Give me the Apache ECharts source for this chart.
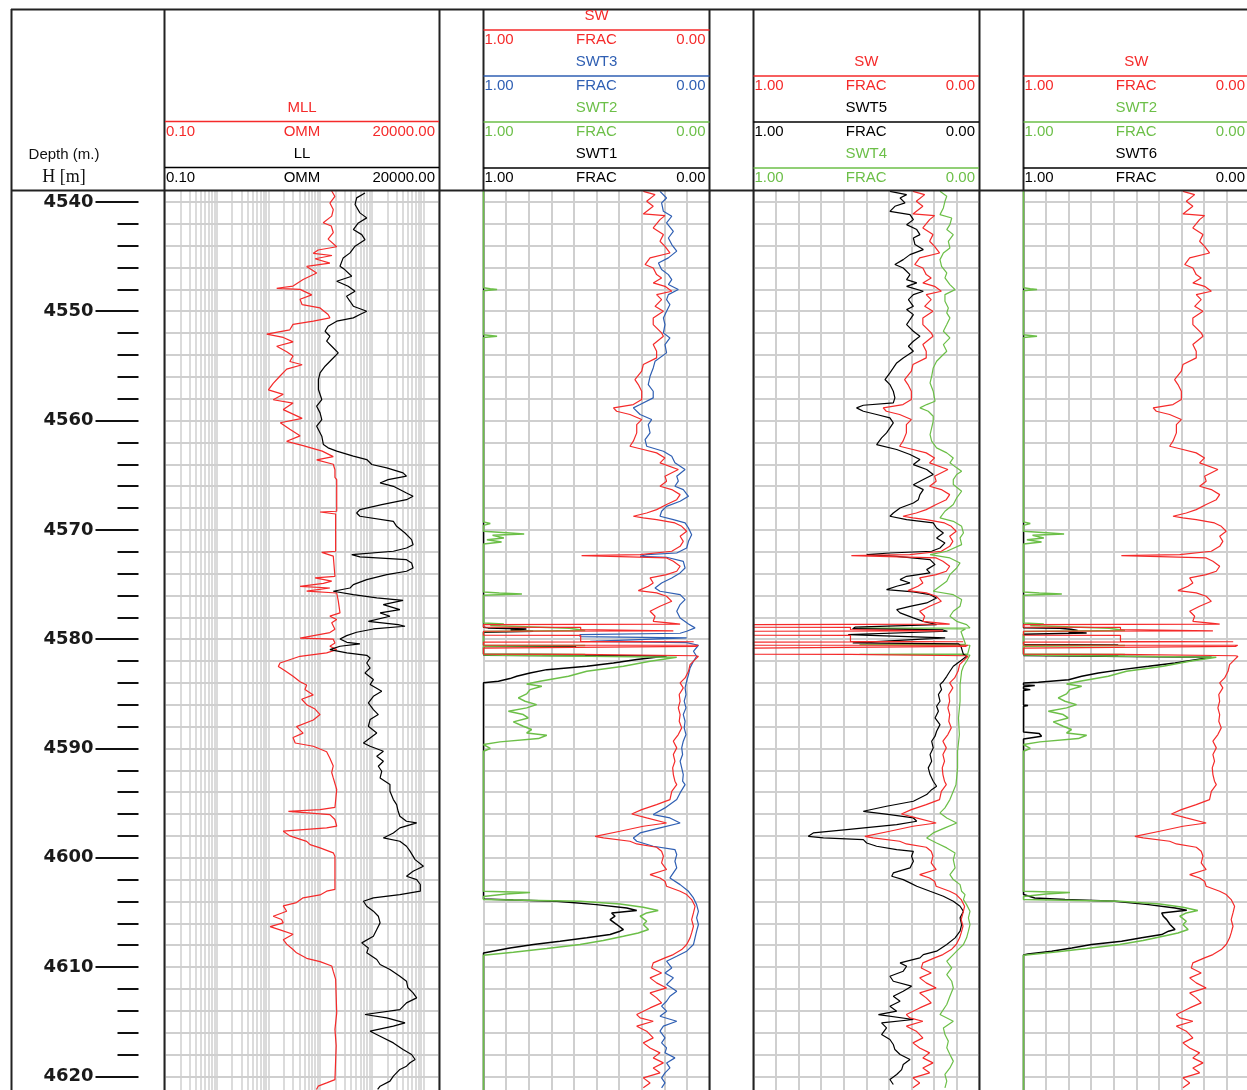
<!DOCTYPE html>
<html>
<head>
<meta charset="utf-8">
<title>Well log – resistivity and water saturation</title>
<script src="https://cdn.jsdelivr.net/npm/echarts@6/dist/echarts.min.js"></script>
<style>
  html, body { margin: 0; padding: 0; background: #ffffff; }
  #chart { width: 1247px; height: 1090px; }
</style>
</head>
<body>
<div id="chart"></div>
<script>
// ---- depth scale (m) ----
const depthRange = [4539, 4621.25];
const depthMajor = [4540, 4550, 4560, 4570, 4580, 4590, 4600, 4610, 4620];
const depthMinor = [4542, 4544, 4546, 4548, 4552, 4554, 4556, 4558, 4562, 4564, 4566, 4568,
  4572, 4574, 4576, 4578, 4582, 4584, 4586, 4588, 4592, 4594, 4596, 4598,
  4602, 4604, 4606, 4608, 4612, 4614, 4616, 4618];

// ---- resistivity scale (OMM) ----
const resRange = [0.1, 20000];
const resGrid = [0.1, 0.2, 0.3, 0.4, 0.5, 0.6, 0.7, 0.8, 0.9,
  1, 2, 3, 4, 5, 6, 7, 8, 9,
  10, 20, 30, 40, 50, 60, 70, 80, 90,
  100, 200, 300, 400, 500, 600, 700, 800, 900,
  1000, 2000, 3000, 4000, 5000, 6000, 7000, 8000, 9000,
  10000, 20000];

// ---- curves: [depth m, value] ----
const mll = [
  [4539.0,168],[4539.5,194],[4540.1,155],[4540.7,180],[4541.3,168],[4541.9,115],[4542.2,165],[4542.8,180],
  [4543.4,143],[4544.1,210],[4544.4,92],[4544.7,74],[4544.9,170],[4545.2,80],[4545.6,155],[4545.9,55],
  [4546.5,86],[4547.1,47],[4547.7,30],[4547.9,14.5],[4548.0,41],[4548.5,69],[4548.9,41],[4549.4,45],
  [4549.7,100],[4550.3,143],[4550.6,155],[4550.9,74],[4551.2,30],[4551.7,26],[4552.1,9.3],[4552.4,19.4],
  [4552.8,30],[4553.2,14.5],[4553.7,22.6],[4554.1,30],[4554.6,26],[4554.9,45],[4555.3,22.6],[4555.9,17],
  [4556.6,12.4],[4557.2,10],[4557.6,19.4],[4558.1,12.4],[4558.4,30],[4559.0,19.4],[4559.8,45],[4560.2,17],
  [4560.8,26],[4561.4,41],[4561.9,22.6],[4562.3,47],[4562.8,110],[4563.3,180],[4563.6,86],[4564.0,180],
  [4564.5,194],[4565.2,194],[4565.4,210],[4568.3,210],[4568.37,100],[4568.55,200],[4571.96,200],[4572.06,108],
  [4572.4,180],[4574.25,194],[4574.4,80],[4574.7,168],[4574.9,116],[4575.17,41],[4575.32,155],[4575.6,55],
  [4575.78,210],[4576.5,225],[4577.6,243],[4577.9,155],[4578.2,210],[4578.5,168],[4579.1,194],[4579.4,155],
  [4579.9,41],[4580.0,180],[4580.35,194],[4580.65,155],[4580.96,210],[4581.26,134],[4581.57,41],[4582.18,16.8],
  [4582.5,15.6],[4582.9,21],[4583.4,30],[4583.9,41],[4584.2,55],[4584.6,51],[4585.1,74],[4585.5,44],
  [4586.0,55],[4586.4,80],[4586.9,100],[4587.4,74],[4588.0,35],[4588.6,47],[4589.0,30],[4589.5,33],
  [4589.8,74],[4590.3,134],[4590.9,155],[4591.6,180],[4592.2,168],[4592.7,180],[4592.85,194],[4593.76,210],
  [4595.4,194],[4595.6,100],[4595.75,24.4],[4595.9,23],[4596.05,155],[4596.5,194],[4597.1,210],[4597.27,134],
  [4597.57,19.4],[4597.73,18],[4598.0,26],[4598.5,55],[4598.8,64],[4599.1,100],[4599.55,180],[4599.86,194],
  [4602.9,194],[4603.06,134],[4603.4,100],[4603.67,47],[4604.1,35],[4604.4,19.4],[4604.9,22.6],[4605.35,12.4],
  [4605.65,18],[4605.96,19.4],[4606.3,10.8],[4606.6,16.8],[4607.0,30],[4607.5,19.4],[4607.9,22.6],[4608.4,30],
  [4608.7,35],[4609.2,55],[4609.5,100],[4609.9,168],[4610.4,180],[4611.1,200],[4614.2,210],[4615.7,194],
  [4617.2,205],[4620.3,194],[4620.6,134],[4620.9,92],[4621.2,85]
];

const ll = [
  [4539.18,740],[4539.63,510],[4540.24,475],[4541.0,590],[4541.46,800],[4541.92,550],[4542.53,440],[4542.99,640],
  [4543.45,740],[4544.05,475],[4544.66,380],[4545.12,280],[4545.88,243],[4546.19,300],[4546.8,410],[4547.26,210],
  [4547.71,350],[4548.17,475],[4548.63,325],[4549.09,380],[4549.54,440],[4550.0,800],[4550.3,590],[4550.61,440],
  [4550.91,210],[4551.37,143],[4551.83,125],[4552.29,155],[4552.74,134],[4553.2,168],[4553.81,225],[4554.42,168],
  [4555.03,125],[4555.64,100],[4556.25,93],[4557.16,93],[4558.08,108],[4558.69,86],[4559.3,100],[4559.91,108],
  [4560.52,86],[4561.43,108],[4562.2,116],[4562.5,143],[4562.8,210],[4563.26,440],[4563.57,800],[4564.02,1000],
  [4564.33,1950],[4564.79,4030],[4565.09,4700],[4565.41,2070],[4565.71,1450],[4566.02,2620],[4566.63,4700],[4566.93,6300],
  [4567.24,4700],[4567.7,1560],[4568.15,590],[4568.46,510],[4568.76,590],[4569.22,2620],[4569.68,3030],[4570.29,4400],
  [4570.9,5900],[4571.36,6300],[4571.66,4700],[4571.96,2620],[4572.27,410],[4572.48,590],[4572.73,4700],[4573.03,5900],
  [4573.49,6300],[4573.79,4700],[4574.1,1950],[4574.56,800],[4575.01,440],[4575.32,380],[4575.62,180],[4575.93,440],
  [4576.23,1250],[4576.45,4030],[4576.84,1670],[4577.3,3500],[4577.6,1450],[4577.91,2250],[4578.37,860],[4578.67,3240],
  [4578.82,4400],[4579.07,1075],[4579.37,510],[4579.68,327],[4579.98,243],[4580.29,330],[4580.44,590],[4580.65,243],
  [4580.96,155],[4581.26,330],[4581.48,800],[4581.72,930],[4582.18,800],[4582.64,930],[4583.09,740],[4583.7,1075],
  [4584.16,930],[4584.77,1560],[4585.23,1075],[4585.84,860],[4586.45,1075],[4586.9,1340],[4587.36,930],[4587.97,860],
  [4588.58,1250],[4589.04,930],[4589.5,690],[4589.8,930],[4590.26,1680],[4590.72,1250],[4591.17,1680],[4591.63,1340],
  [4592.09,1560],[4592.7,1450],[4592.85,1340],[4593.31,2250],[4593.92,2250],[4594.68,2620],[4595.14,3030],[4595.75,3240],
  [4596.2,3500],[4596.66,4700],[4596.81,7400],[4597.27,3500],[4597.73,2620],[4598.19,1680],[4598.49,3500],[4598.95,4700],
  [4599.4,5500],[4600.17,6900],[4600.78,10000],[4601.23,6300],[4601.69,4700],[4602.0,7400],[4602.45,8700],[4603.06,8700],
  [4603.37,3500],[4603.67,1075],[4603.98,690],[4604.44,800],[4604.89,1075],[4605.35,1340],[4605.96,1450],[4606.57,1250],
  [4607.18,1075],[4607.79,640],[4608.25,860],[4608.7,800],[4609.31,1250],[4609.77,1450],[4610.23,2250],[4610.84,3500],
  [4611.3,4700],[4611.9,5000],[4612.36,6300],[4612.82,7400],[4613.28,4700],[4613.89,3500],[4614.34,740],[4614.65,1950],
  [4615.11,4400],[4615.41,2620],[4615.87,930],[4616.33,1450],[4616.94,2620],[4617.55,4030],[4618.0,5900],[4618.46,6900],
  [4618.76,5500],[4619.07,4700],[4619.37,3500],[4619.98,2620],[4620.44,2250],[4620.9,1450],[4621.2,1300]
];

const sw = [
  [4539.03,0.293],[4539.33,0.241],[4539.94,0.278],[4540.4,0.249],[4541.1,0.293],[4541.25,0.197],[4541.62,0.219],[4542.38,0.249],
  [4542.99,0.204],[4543.6,0.219],[4544.06,0.197],[4544.67,0.175],[4545.12,0.263],[4545.73,0.285],[4546.04,0.249],[4546.65,0.234],
  [4546.95,0.212],[4547.41,0.249],[4547.72,0.197],[4548.17,0.167],[4548.48,0.234],[4548.94,0.212],[4549.55,0.241],[4550.0,0.204],
  [4550.61,0.249],[4551.22,0.249],[4551.98,0.212],[4552.29,0.204],[4553.05,0.249],[4553.66,0.234],[4554.27,0.234],[4554.88,0.293],
  [4555.49,0.300],[4556.25,0.330],[4556.71,0.315],[4557.32,0.300],[4558.08,0.300],[4558.54,0.337],[4558.84,0.425],[4559.15,0.411],
  [4559.45,0.352],[4559.91,0.300],[4560.37,0.322],[4561.13,0.322],[4561.89,0.337],[4562.35,0.352],[4562.65,0.293],[4562.96,0.234],
  [4563.42,0.197],[4563.87,0.219],[4564.48,0.138],[4565.09,0.197],[4565.55,0.190],[4566.01,0.219],[4566.32,0.167],[4566.78,0.130],
  [4567.24,0.145],[4567.69,0.190],[4568.15,0.234],[4568.46,0.278],[4568.76,0.337],[4568.91,0.293],[4569.07,0.234],[4569.37,0.153],
  [4569.68,0.123],[4570.13,0.101],[4570.59,0.130],[4571.05,0.116],[4571.51,0.130],[4571.96,0.167],[4572.27,0.307],[4572.36,0.566],
  [4572.45,0.396],[4572.57,0.190],[4572.88,0.160],[4573.33,0.130],[4573.79,0.145],[4574.1,0.190],[4574.4,0.263],[4574.86,0.249],
  [4575.16,0.271],[4575.56,0.315],[4575.77,0.234],[4576.08,0.190],[4576.54,0.167],[4576.99,0.219],[4577.45,0.263],[4577.91,0.241],
  [4578.37,0.249],[4578.55,0.16],[4578.62,0.13],[4578.67,1.0],[4578.9,1.0],[4578.92,0.57],[4579.12,0.57],[4579.25,0.16],
  [4579.28,1.0],[4579.63,1.0],[4579.65,0.57],[4580.2,0.57],[4580.24,0.07],[4580.27,1.0],[4580.54,1.0],[4580.56,0.05],
  [4580.66,0.06],[4580.8,0.06],[4580.82,1.0],[4581.38,1.0],[4581.4,0.57],[4581.46,0.57],[4581.52,0.06],[4581.57,0.049],
  [4581.87,0.064],[4582.33,0.086],[4582.94,0.093],[4583.55,0.108],[4584.0,0.130],[4584.46,0.116],[4585.07,0.134],[4585.68,0.130],
  [4586.29,0.138],[4586.9,0.130],[4587.51,0.134],[4588.12,0.123],[4588.73,0.138],[4589.34,0.160],[4589.95,0.145],[4590.56,0.160],
  [4591.17,0.153],[4591.78,0.163],[4592.39,0.160],[4593.0,0.153],[4593.31,0.145],[4593.92,0.167],[4594.68,0.175],[4595.14,0.234],
  [4595.6,0.300],[4596.0,0.344],[4596.36,0.278],[4596.82,0.190],[4597.12,0.293],[4597.58,0.396],[4598.04,0.506],[4598.19,0.469],
  [4598.49,0.352],[4598.74,0.322],[4599.04,0.234],[4599.41,0.212],[4599.86,0.204],[4600.47,0.212],[4601.08,0.190],[4601.54,0.263],
  [4601.85,0.219],[4602.15,0.197],[4602.61,0.190],[4603.07,0.130],[4603.37,0.101],[4603.83,0.079],[4604.44,0.064],[4605.05,0.071],
  [4605.66,0.079],[4606.27,0.071],[4606.88,0.079],[4607.33,0.086],[4607.94,0.101],[4608.4,0.123],[4608.86,0.160],[4609.16,0.197],
  [4609.62,0.249],[4610.08,0.256],[4610.54,0.212],[4610.99,0.263],[4611.45,0.234],[4611.91,0.190],[4612.37,0.263],[4612.82,0.234],
  [4613.28,0.212],[4613.74,0.263],[4614.35,0.322],[4614.65,0.307],[4614.96,0.249],[4615.41,0.322],[4615.87,0.278],[4616.48,0.249],
  [4616.94,0.293],[4617.4,0.263],[4617.85,0.219],[4618.31,0.249],[4618.77,0.204],[4619.23,0.249],[4619.68,0.219],[4620.14,0.293],
  [4620.6,0.263],[4621.05,0.293]
];

const swt3 = [
  [4539.03,0.219],[4539.64,0.190],[4540.09,0.212],[4540.86,0.204],[4541.31,0.167],[4541.92,0.190],[4542.69,0.160],[4543.3,0.182],
  [4543.9,0.167],[4544.5,0.145],[4545.12,0.182],[4545.58,0.226],[4546.19,0.212],[4546.65,0.182],[4547.11,0.167],[4547.56,0.182],
  [4548.02,0.138],[4548.48,0.182],[4548.94,0.190],[4549.39,0.175],[4550.0,0.190],[4550.61,0.204],[4551.22,0.197],[4551.98,0.204],
  [4552.44,0.175],[4553.05,0.197],[4553.81,0.190],[4554.58,0.241],[4555.19,0.249],[4555.95,0.263],[4556.71,0.271],[4557.32,0.249],
  [4557.93,0.249],[4558.54,0.307],[4558.84,0.337],[4559.45,0.307],[4559.91,0.256],[4560.37,0.271],[4561.13,0.263],[4561.74,0.285],
  [4562.35,0.278],[4562.81,0.204],[4563.26,0.167],[4563.87,0.153],[4564.48,0.108],[4565.09,0.145],[4565.55,0.138],[4566.01,0.153],
  [4566.32,0.116],[4566.93,0.093],[4567.39,0.130],[4567.85,0.190],[4568.3,0.212],[4568.76,0.219],[4569.07,0.160],[4569.37,0.108],
  [4569.83,0.093],[4570.44,0.079],[4571.05,0.093],[4571.66,0.101],[4572.12,0.145],[4572.27,0.278],[4572.42,0.307],[4572.51,0.190],
  [4572.88,0.116],[4573.49,0.108],[4573.94,0.130],[4574.4,0.167],[4574.86,0.212],[4575.32,0.241],[4575.62,0.219],[4575.93,0.130],
  [4576.38,0.108],[4576.84,0.130],[4577.45,0.145],[4578.06,0.130],[4578.61,0.093],[4578.97,0.064],[4579.28,0.101],[4579.46,0.130],
  [4579.58,0.573],[4579.77,0.573],[4579.89,0.101],[4580.2,0.528],[4580.32,0.101],[4580.56,0.049],[4581.11,0.071],[4581.57,0.057],
  [4582.02,0.071],[4582.63,0.086],[4583.24,0.093],[4583.85,0.101],[4584.46,0.108],[4585.07,0.104],[4585.68,0.112],[4586.29,0.104],
  [4586.9,0.116],[4587.51,0.108],[4588.12,0.112],[4588.73,0.104],[4589.34,0.116],[4589.95,0.123],[4590.56,0.119],[4591.17,0.130],
  [4591.78,0.123],[4592.39,0.116],[4593.0,0.119],[4593.31,0.108],[4594.07,0.130],[4594.68,0.145],[4595.44,0.197],[4596.05,0.249],
  [4596.36,0.175],[4596.82,0.130],[4597.27,0.219],[4597.73,0.307],[4598.19,0.337],[4598.49,0.322],[4598.95,0.249],[4599.25,0.153],
  [4599.71,0.145],[4600.32,0.153],[4600.93,0.145],[4601.39,0.160],[4601.85,0.175],[4602.46,0.130],[4603.07,0.093],[4603.68,0.071],
  [4604.29,0.057],[4604.9,0.049],[4605.5,0.057],[4606.11,0.049],[4606.72,0.057],[4607.33,0.064],[4607.94,0.071],[4608.55,0.101],
  [4609.01,0.145],[4609.47,0.190],[4610.08,0.167],[4610.54,0.197],[4610.99,0.160],[4611.6,0.190],[4612.21,0.145],[4612.67,0.175],
  [4613.13,0.190],[4613.58,0.212],[4614.04,0.190],[4614.5,0.219],[4614.96,0.145],[4615.41,0.204],[4615.87,0.219],[4616.48,0.197],
  [4616.94,0.212],[4617.4,0.190],[4617.85,0.197],[4618.31,0.153],[4618.77,0.190],[4619.23,0.175],[4619.68,0.197],[4620.14,0.212],
  [4620.6,0.197],[4621.05,0.212]
];

const swt2 = [
  [4539.0,1],[4547.85,1],[4547.95,0.97],[4548.02,0.94],[4548.12,1],[4552.15,1],[4552.28,0.94],[4552.4,1],
  [4569.28,1],[4569.43,0.97],[4569.59,1],[4570.13,1],[4570.29,0.883],[4570.38,0.82],[4570.5,0.96],[4570.74,0.91],
  [4570.9,0.985],[4571.11,0.92],[4571.29,1],[4575.68,1],[4575.77,0.93],[4575.86,0.83],[4575.99,1],[4578.52,1],
  [4578.61,0.91],[4578.75,0.97],[4579.0,0.62],[4579.2,0.55],[4579.3,1],[4580.55,1],[4580.58,0.55],[4580.64,1],
  [4581.35,1],[4581.4,0.55],[4581.45,1],[4581.55,1],[4581.66,0.145],[4582.02,0.263],[4582.48,0.381],[4582.94,0.543],
  [4583.4,0.624],[4583.85,0.75],[4584.1,0.809],[4584.31,0.742],[4584.62,0.794],[4585.01,0.809],[4585.38,0.846],[4585.68,0.816],
  [4585.99,0.765],[4586.29,0.809],[4586.6,0.89],[4586.9,0.824],[4587.21,0.802],[4587.57,0.868],[4587.97,0.824],[4588.27,0.787],
  [4588.58,0.809],[4588.79,0.72],[4589.1,0.757],[4589.4,0.927],[4589.65,1],[4590.0,0.97],[4590.26,1],[4603.07,1],
  [4603.19,0.794],[4603.31,0.9],[4603.55,1],[4603.83,1],[4603.98,0.573],[4604.23,0.396],[4604.53,0.293],[4604.83,0.227],
  [4605.05,0.278],[4605.35,0.307],[4605.81,0.278],[4606.11,0.293],[4606.57,0.27],[4606.88,0.315],[4607.18,0.381],[4607.58,0.47],
  [4607.94,0.573],[4608.31,0.72],[4608.64,0.868],[4608.92,1],[4621.25,1]
];

const swt1 = [
  [4539.0,1],[4578.91,1],[4578.97,0.98],[4579.07,0.81],[4579.19,0.88],[4579.28,0.78],[4579.37,1],[4580.6,1],
  [4580.64,0.59],[4580.68,1],[4581.38,1],[4581.42,0.59],[4581.47,1],[4581.5,1],[4581.54,0.19],[4581.87,0.322],
  [4582.18,0.425],[4582.48,0.543],[4582.79,0.72],[4583.09,0.794],[4583.4,0.853],[4583.61,0.883],[4583.85,0.934],[4584.0,1],
  [4603.77,1],[4603.86,0.868],[4603.98,0.676],[4604.29,0.5],[4604.59,0.366],[4604.83,0.322],[4605.05,0.433],[4605.35,0.418],
  [4605.66,0.44],[4606.11,0.41],[4606.57,0.381],[4606.72,0.396],[4607.03,0.44],[4607.33,0.543],[4607.64,0.661],[4607.94,0.779],
  [4608.25,0.883],[4608.71,1],[4621.25,1]
];

const swt5 = [
  [4539.03,0.395],[4539.33,0.321],[4539.64,0.350],[4540.09,0.328],[4540.4,0.373],[4540.86,0.395],[4541.16,0.306],[4541.62,0.291],
  [4542.08,0.321],[4542.53,0.276],[4542.99,0.262],[4543.3,0.291],[4543.9,0.284],[4544.36,0.247],[4544.82,0.306],[4545.28,0.336],
  [4545.73,0.373],[4546.04,0.336],[4546.65,0.306],[4547.11,0.321],[4547.41,0.276],[4547.72,0.321],[4548.17,0.247],[4548.48,0.291],
  [4548.94,0.313],[4549.55,0.291],[4549.85,0.321],[4550.31,0.291],[4550.76,0.306],[4551.22,0.321],[4551.83,0.291],[4552.29,0.262],
  [4552.75,0.291],[4553.2,0.313],[4553.66,0.291],[4554.27,0.336],[4554.73,0.365],[4555.19,0.380],[4555.64,0.395],[4556.25,0.417],
  [4556.71,0.395],[4557.32,0.380],[4557.93,0.373],[4558.39,0.380],[4558.6,0.513],[4558.84,0.543],[4559.15,0.513],[4559.45,0.454],
  [4559.76,0.395],[4560.22,0.380],[4560.67,0.395],[4561.13,0.410],[4561.59,0.432],[4562.2,0.454],[4562.65,0.365],[4563.11,0.306],
  [4563.57,0.262],[4564.03,0.291],[4564.48,0.232],[4564.94,0.203],[4565.4,0.247],[4565.87,0.291],[4566.32,0.247],[4566.78,0.262],
  [4567.24,0.269],[4567.54,0.291],[4568.0,0.350],[4568.46,0.380],[4568.76,0.395],[4569.07,0.321],[4569.37,0.203],[4569.83,0.188],
  [4570.29,0.158],[4570.74,0.188],[4571.2,0.151],[4571.66,0.173],[4571.96,0.210],[4572.12,0.395],[4572.27,0.498],[4572.42,0.365],
  [4572.72,0.217],[4573.18,0.195],[4573.64,0.232],[4573.94,0.217],[4574.25,0.321],[4574.55,0.350],[4574.86,0.306],[4575.16,0.365],
  [4575.47,0.410],[4575.68,0.291],[4575.93,0.217],[4576.23,0.188],[4576.69,0.232],[4577.0,0.306],[4577.3,0.365],[4577.6,0.350],
  [4578.06,0.291],[4578.37,0.247],[4578.67,0.188],[4578.91,0.55],[4579.04,0.56],[4579.16,0.16],[4579.28,0.14],[4579.58,0.58],
  [4579.74,0.58],[4579.89,0.15],[4580.35,0.56],[4580.44,0.09],[4580.65,0.08],[4581.35,0.07],[4581.57,0.055],[4581.66,0.062],
  [4582.02,0.084],[4582.48,0.114],[4582.94,0.129],[4583.4,0.143],[4583.85,0.158],[4584.16,0.173],[4584.62,0.166],[4585.07,0.180],
  [4585.68,0.173],[4586.14,0.188],[4586.6,0.180],[4587.21,0.195],[4587.82,0.173],[4588.43,0.188],[4588.88,0.195],[4589.34,0.210],
  [4589.95,0.203],[4590.56,0.217],[4591.17,0.210],[4591.78,0.225],[4592.39,0.217],[4593.0,0.203],[4593.46,0.188],[4593.77,0.210],
  [4594.22,0.232],[4594.83,0.291],[4595.29,0.410],[4595.75,0.513],[4596.05,0.395],[4596.36,0.291],[4596.66,0.276],[4596.97,0.365],
  [4597.43,0.587],[4597.73,0.735],[4598.04,0.757],[4598.19,0.690],[4598.34,0.513],[4598.65,0.498],[4598.95,0.454],[4599.25,0.365],
  [4599.41,0.291],[4599.86,0.299],[4600.32,0.291],[4600.93,0.306],[4601.39,0.380],[4601.69,0.387],[4602.0,0.336],[4602.3,0.306],
  [4602.61,0.276],[4603.07,0.217],[4603.52,0.158],[4603.98,0.114],[4604.44,0.084],[4604.9,0.069],[4605.5,0.084],[4606.11,0.077],
  [4606.72,0.084],[4607.33,0.106],[4607.94,0.143],[4608.55,0.188],[4608.86,0.247],[4609.16,0.262],[4609.62,0.350],[4609.93,0.321],
  [4610.38,0.336],[4610.84,0.395],[4611.3,0.380],[4611.75,0.299],[4612.21,0.336],[4612.67,0.380],[4613.13,0.350],[4613.58,0.395],
  [4614.04,0.365],[4614.35,0.446],[4614.8,0.291],[4615.11,0.432],[4615.57,0.410],[4616.18,0.432],[4616.63,0.395],[4617.09,0.380],
  [4617.55,0.373],[4618.0,0.350],[4618.46,0.306],[4618.92,0.336],[4619.38,0.343],[4619.83,0.365],[4620.29,0.395],[4620.75,0.380]
];

const swt4 = [
  [4539.03,0.173],[4539.48,0.143],[4539.94,0.151],[4540.55,0.158],[4541.16,0.173],[4541.47,0.121],[4542.08,0.129],[4542.53,0.143],
  [4542.99,0.114],[4543.6,0.136],[4544.21,0.129],[4544.67,0.158],[4545.28,0.173],[4545.89,0.166],[4546.5,0.143],[4546.95,0.151],
  [4547.56,0.129],[4548.02,0.106],[4548.48,0.151],[4549.09,0.151],[4549.7,0.136],[4550.15,0.143],[4550.61,0.129],[4551.22,0.143],
  [4551.83,0.158],[4552.44,0.129],[4553.05,0.158],[4553.66,0.143],[4554.12,0.166],[4554.58,0.188],[4555.19,0.203],[4555.95,0.210],
  [4556.56,0.217],[4557.32,0.203],[4558.23,0.195],[4558.54,0.232],[4558.84,0.262],[4559.15,0.225],[4559.61,0.203],[4560.06,0.203],
  [4560.67,0.210],[4561.28,0.217],[4561.89,0.210],[4562.5,0.188],[4562.96,0.143],[4563.42,0.114],[4563.87,0.129],[4564.33,0.099],
  [4564.64,0.077],[4564.94,0.099],[4565.4,0.114],[4565.86,0.114],[4566.47,0.077],[4567.08,0.099],[4567.69,0.114],[4568.3,0.151],
  [4568.91,0.173],[4569.22,0.114],[4569.68,0.077],[4570.29,0.069],[4570.74,0.084],[4571.35,0.077],[4571.96,0.143],[4572.27,0.217],
  [4572.57,0.129],[4573.03,0.084],[4573.49,0.099],[4574.1,0.129],[4574.71,0.143],[4575.16,0.173],[4575.62,0.203],[4575.93,0.114],
  [4576.38,0.077],[4576.99,0.084],[4577.45,0.114],[4577.91,0.129],[4578.37,0.099],[4578.67,0.055],[4578.97,0.040],[4579.0,0.53],
  [4579.06,0.06],[4579.3,0.08],[4580.45,0.06],[4580.5,0.53],[4580.56,0.04],[4581.35,0.05],[4581.4,0.53],[4581.45,0.04],
  [4581.57,0.040],[4582.02,0.055],[4582.48,0.069],[4582.94,0.077],[4584.16,0.084],[4585.68,0.084],[4587.21,0.091],[4588.73,0.087],
  [4590.26,0.095],[4591.78,0.095],[4593.31,0.102],[4593.92,0.114],[4594.68,0.129],[4595.44,0.151],[4595.9,0.173],[4596.36,0.143],
  [4596.82,0.099],[4597.27,0.151],[4597.73,0.203],[4598.19,0.232],[4598.65,0.188],[4599.1,0.143],[4599.56,0.106],[4600.17,0.114],
  [4600.93,0.106],[4601.54,0.129],[4602.0,0.114],[4602.46,0.084],[4603.07,0.077],[4603.37,0.062],[4603.83,0.069],[4604.29,0.055],
  [4604.9,0.040],[4605.5,0.047],[4606.11,0.040],[4606.72,0.047],[4607.33,0.055],[4607.94,0.069],[4608.55,0.099],[4608.86,0.114],
  [4609.47,0.143],[4610.08,0.121],[4610.69,0.143],[4611.3,0.121],[4611.91,0.114],[4612.67,0.129],[4613.43,0.143],[4614.35,0.173],
  [4614.96,0.114],[4615.57,0.158],[4616.18,0.151],[4616.78,0.136],[4617.39,0.143],[4618.0,0.129],[4618.61,0.114],[4619.23,0.129],
  [4619.83,0.151],[4620.44,0.143],[4621.05,0.151]
];

const swt6 = [
  [4539.0,1],[4578.95,1],[4579.0,0.84],[4579.1,0.79],[4579.2,0.76],[4579.35,0.8],[4579.45,0.72],[4579.55,1],
  [4580.5,1],[4580.53,0.58],[4580.57,1],[4581.4,1],[4581.45,0.58],[4581.5,1],[4581.6,1],[4581.66,0.166],
  [4582.18,0.328],[4582.49,0.446],[4582.79,0.565],[4583.1,0.668],[4583.4,0.742],[4583.71,0.8],[4583.95,0.934],[4584.01,1],
  [4584.2,1],[4584.25,0.95],[4584.35,1],[4584.55,1],[4584.62,0.97],[4584.7,1],[4586.02,1],[4586.08,0.98],
  [4586.14,1],[4588.5,1],[4588.64,0.93],[4588.89,0.92],[4589.13,1],[4603.37,1],[4603.68,0.95],[4603.83,0.816],
  [4603.98,0.594],[4604.29,0.446],[4604.59,0.328],[4604.8,0.276],[4605.05,0.387],[4605.35,0.38],[4605.66,0.365],[4606.11,0.35],
  [4606.57,0.328],[4606.72,0.357],[4607.03,0.387],[4607.33,0.476],[4607.64,0.565],[4607.94,0.698],[4608.25,0.786],[4608.55,0.875],
  [4608.8,0.98],[4608.9,1],[4621.25,1]
];

// ---- layout ----
const TOP = 191, PLOT_H = 899;
// the depth scale hangs off the left edge of a thin box, ticks and labels pointing left
const depthBox = { left: 138.5, width: 10 };
const tracks = [
  null,
  { left: 165, width: 274 },      // resistivity
  { left: 483.5, width: 226 },    // SW / SWT3 / SWT2 / SWT1
  { left: 753.5, width: 225.5 },  // SW / SWT5 / SWT4
  { left: 1023.5, width: 225.5 }  // SW / SWT2 / SWT6
];

const RED = '#f52a2a', BLUE = '#2f5fb3', GREEN = '#6cbf48', BLACK = '#000000';
const GRIDC = '#cfcfcf';
const FONT = '"Liberation Sans", Arial, sans-serif';

const depthGrid = depthMajor.concat(depthMinor).sort((a, b) => a - b);

const chart = echarts.init(document.getElementById('chart'), null, { renderer: 'canvas' });

function box(b) {
  return { left: b.left, top: TOP, width: b.width, height: PLOT_H,
    containLabel: false, outerBoundsMode: 'none', show: false };
}
// grid 0: depth labels + 10 m ticks, grid 1: 2 m ticks, grids 2..5: tracks 1..4
const grids = [box(depthBox), box(depthBox)].concat(tracks.slice(1).map(box));

const hidden = { show: false };

const xAxes = [
  { gridIndex: 0, type: 'value', min: 0, max: 1, show: false },
  { gridIndex: 1, type: 'value', min: 0, max: 1, show: false },
  {
    gridIndex: 2, type: 'log', logBase: 10, min: resRange[0], max: resRange[1],
    axisLine: hidden, axisLabel: hidden,
    axisTick: { show: false, customValues: resGrid },
    splitLine: { show: true, lineStyle: { color: GRIDC, width: 1.5 } }
  }
];
for (let i = 3; i <= 5; i++) {
  xAxes.push({
    gridIndex: i, type: 'value', min: 0, max: 1, interval: 0.1, inverse: true,
    axisLine: hidden, axisLabel: hidden, axisTick: hidden,
    splitLine: { show: true, lineStyle: { color: GRIDC, width: 2 } }
  });
}

const yAxes = [
  {
    gridIndex: 0, type: 'value', position: 'left', inverse: true,
    min: depthRange[0], max: depthRange[1],
    axisLine: hidden, splitLine: hidden,
    axisTick: { show: true, inside: false, length: 43, customValues: depthMajor,
      lineStyle: { color: '#111', width: 2 } },
    axisLabel: { show: true, inside: false, margin: 45, customValues: depthMajor,
      formatter: v => String(v),
      fontFamily: '"DejaVu Sans", sans-serif', fontWeight: 'bold', fontSize: 18, color: '#1a1a1a' }
  },
  {
    gridIndex: 1, type: 'value', position: 'left', inverse: true,
    min: depthRange[0], max: depthRange[1],
    axisLine: hidden, splitLine: hidden, axisLabel: hidden,
    axisTick: { show: true, inside: false, length: 21, customValues: depthMinor,
      lineStyle: { color: '#111', width: 2 } }
  }
];
for (let i = 2; i <= 5; i++) {
  yAxes.push({
    gridIndex: i, type: 'value', inverse: true,
    min: depthRange[0], max: depthRange[1],
    axisLine: hidden, axisLabel: hidden,
    axisTick: { show: false, customValues: depthGrid },
    splitLine: { show: true, lineStyle: { color: GRIDC, width: 2 } }
  });
}

// track n (1..4) uses axes n+1
function curve(name, rows, track, color, width) {
  return {
    type: 'line', name,
    xAxisIndex: track + 1, yAxisIndex: track + 1,
    data: rows.map(r => [r[1], r[0]]),
    showSymbol: false, symbol: 'none', clip: false, silent: true,
    lineStyle: { color, width: width || 1.2 },
    animation: false
  };
}

const series = [
  curve('MLL', mll, 1, RED),
  curve('LL', ll, 1, BLACK),
  curve('SWT1', swt1, 2, BLACK, 1.5),
  curve('SWT2', swt2, 2, GREEN, 1.5),
  curve('SWT3', swt3, 2, BLUE),
  curve('SW', sw, 2, RED),
  curve('SWT4', swt4, 3, GREEN),
  curve('SWT5', swt5, 3, BLACK),
  curve('SW', sw, 3, RED),
  curve('SWT6', swt6, 4, BLACK, 1.5),
  curve('SWT2', swt2, 4, GREEN, 1.5),
  curve('SW', sw, 4, RED)
];

// ---- header and frame ----
const g = [];
function line(x1, y1, x2, y2, color, w) {
  g.push({ type: 'line', z: 100, silent: true,
    shape: { x1, y1, x2, y2 }, style: { stroke: color, lineWidth: w || 1.5 } });
}
function text(x, y, s, color, align, font) {
  g.push({ type: 'text', z: 100, silent: true, x, y,
    style: { text: s, fill: color, align: align || 'center', verticalAlign: 'middle',
      font: font || ('15px ' + FONT) } });
}
// one curve block in a track header: name above a coloured rule, scale below it
function block(t, ruleY, name, color, lo, unit, hi) {
  const l = t.left, r = Math.min(t.left + t.width, 1247);
  const c = t.left + t.width / 2;
  text(c, ruleY - 14, name, color, 'center');
  line(l, ruleY, r, ruleY, color, 1.5);
  text(l + 1, ruleY + 10, lo, color, 'left');
  text(c, ruleY + 10, unit, color, 'center');
  text(t.left + t.width - 4, ruleY + 10, hi, color, 'right');
}

// frame
line(11, 9.5, 1247, 9.5, '#222', 2);
line(11, 190.5, 1247, 190.5, '#222', 2);
[11.5, 164.5, 439.5, 709.5, 753.5, 979.5].forEach(x => line(x, 9, x, 1090, '#222', 2));
[483.5, 1023.5].forEach(x => line(x, 9, x, 190.5, '#222', 2));

// depth column titles
text(64, 155, 'Depth (m.)', '#111', 'center', '15px ' + FONT);
text(64, 177, 'H [m]', '#111', 'center', '18px "Liberation Serif", "DejaVu Serif", serif');

// resistivity track
block(tracks[1], 121.5, 'MLL', RED, '0.10', 'OMM', '20000.00');
block(tracks[1], 167.5, 'LL', BLACK, '0.10', 'OMM', '20000.00');

// saturation track 1
block(tracks[2], 30, 'SW', RED, '1.00', 'FRAC', '0.00');
block(tracks[2], 76, 'SWT3', BLUE, '1.00', 'FRAC', '0.00');
block(tracks[2], 122, 'SWT2', GREEN, '1.00', 'FRAC', '0.00');
block(tracks[2], 168, 'SWT1', BLACK, '1.00', 'FRAC', '0.00');

// saturation track 2
block(tracks[3], 76, 'SW', RED, '1.00', 'FRAC', '0.00');
block(tracks[3], 122, 'SWT5', BLACK, '1.00', 'FRAC', '0.00');
block(tracks[3], 168, 'SWT4', GREEN, '1.00', 'FRAC', '0.00');

// saturation track 3
block(tracks[4], 76, 'SW', RED, '1.00', 'FRAC', '0.00');
block(tracks[4], 122, 'SWT2', GREEN, '1.00', 'FRAC', '0.00');
block(tracks[4], 168, 'SWT6', BLACK, '1.00', 'FRAC', '0.00');

chart.setOption({
  animation: false,
  backgroundColor: '#ffffff',
  textStyle: { fontFamily: FONT },
  grid: grids,
  xAxis: xAxes,
  yAxis: yAxes,
  series,
  graphic: { elements: g }
});
</script>
</body>
</html>
